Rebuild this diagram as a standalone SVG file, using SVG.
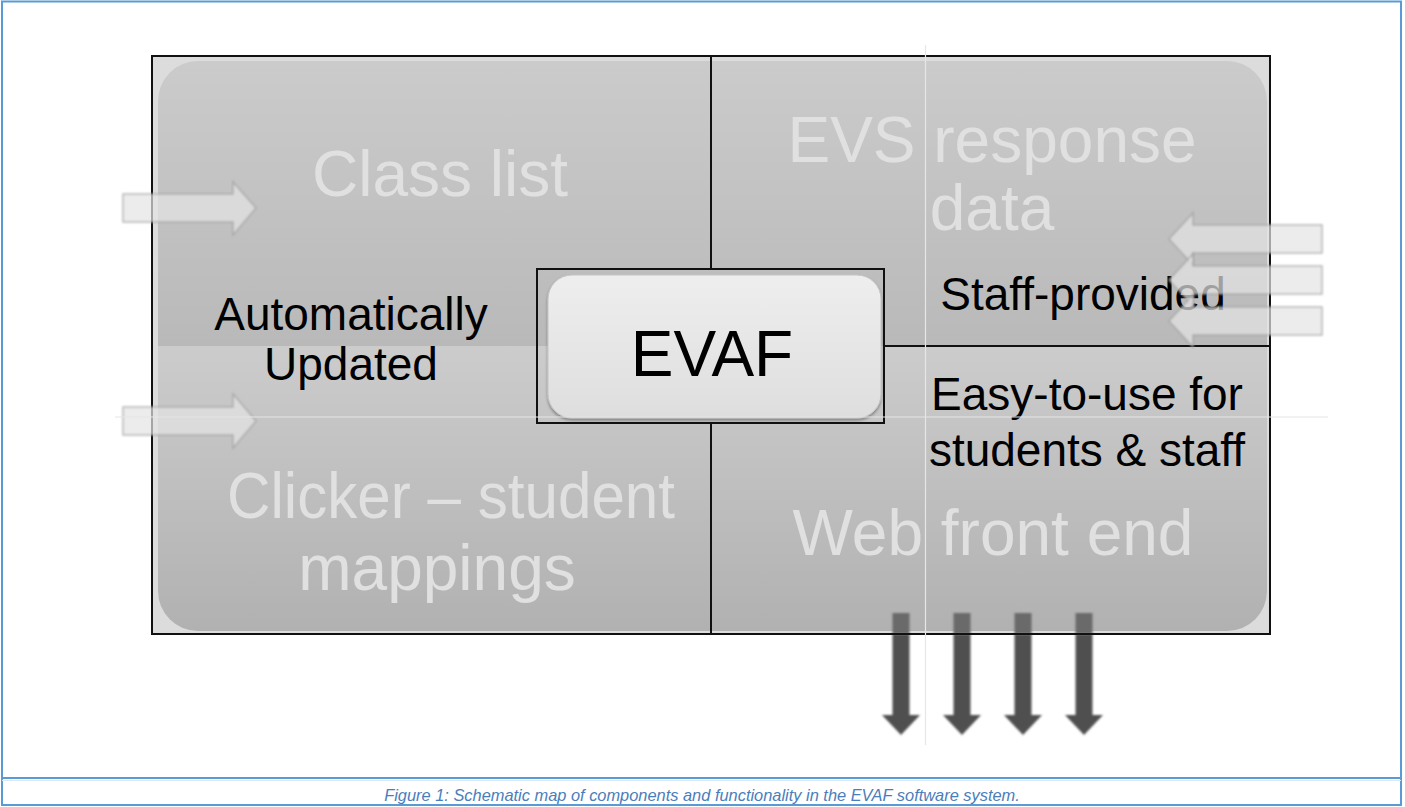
<svg xmlns="http://www.w3.org/2000/svg" width="1405" height="807" viewBox="0 0 1405 807">
<style>
.big{font-family:"Liberation Sans",Arial,sans-serif;font-size:64px;fill:#e0e0e0;text-anchor:middle}
.lbl{font-family:"Liberation Sans",Arial,sans-serif;font-size:46px;fill:#000;text-anchor:middle}
.cap{font-family:"Liberation Sans",Arial,sans-serif;font-size:16.4px;font-style:italic;fill:#4a7ebb;text-anchor:middle}
.ln{stroke:#111;stroke-width:2;fill:none}
.guide{stroke:#e6e6e6;stroke-width:1.2;fill:none}
.inarrow{fill:#e4e4e4;fill-opacity:0.7;stroke:#9a9a9a;stroke-opacity:0.7;stroke-width:1.5;filter:url(#soft)}
.outarrow{fill:#505050;filter:url(#soft)}
.outtop{fill:#6b6b6b;filter:url(#soft)}
</style>
<defs>
<linearGradient id="gTop" x1="0" y1="0" x2="0" y2="1">
<stop offset="0" stop-color="#cbcbcb"/>
<stop offset="1" stop-color="#b9b9b9"/>
</linearGradient>
<linearGradient id="gBot" x1="0" y1="0" x2="0" y2="1">
<stop offset="0" stop-color="#cccccc"/>
<stop offset="1" stop-color="#b1b1b1"/>
</linearGradient>
<linearGradient id="gEvaf" x1="0" y1="0" x2="0" y2="1">
<stop offset="0" stop-color="#eeeeee"/>
<stop offset="1" stop-color="#dedede"/>
</linearGradient>
<clipPath id="rr"><rect x="158" y="61" width="1109" height="570" rx="40" ry="40"/></clipPath>
<filter id="soft" x="-20%" y="-20%" width="140%" height="140%"><feGaussianBlur stdDeviation="0.8"/></filter>
<filter id="shadow" x="-10%" y="-10%" width="120%" height="130%"><feGaussianBlur in="SourceAlpha" stdDeviation="1.5"/><feOffset dy="1.5"/><feComponentTransfer><feFuncA type="linear" slope="0.35"/></feComponentTransfer><feMerge><feMergeNode/><feMergeNode in="SourceGraphic"/></feMerge></filter>
</defs>
<rect width="1405" height="807" fill="#fff"/>
<rect x="2" y="1.5" width="1399" height="803.5" fill="none" stroke="#5b9bd5" stroke-width="2"/>
<line x1="2" y1="778" x2="1401" y2="778" stroke="#5b9bd5" stroke-width="2"/>
<line x1="2" y1="780.5" x2="1401" y2="780.5" stroke="#dbe8f5" stroke-width="1"/>

<g id="background">
<rect x="152" y="56" width="1118" height="578" fill="#dcdcdc"/>
<g clip-path="url(#rr)">
<rect x="158" y="61" width="1109" height="285" fill="url(#gTop)"/>
<rect x="158" y="346" width="1109" height="285" fill="url(#gBot)"/>
</g>
</g>

<g id="node-classlist"><text class="big" x="440" y="196">Class list</text></g>
<g id="node-evs"><text class="big" x="992" y="162">EVS response</text><text class="big" x="992" y="230">data</text></g>
<g id="node-clicker"><text class="big" x="451" y="518" textLength="448" lengthAdjust="spacingAndGlyphs">Clicker – student</text><text class="big" x="437" y="590">mappings</text></g>
<g id="node-web"><text class="big" x="993" y="555">Web front end</text></g>

<g id="bottom-arrows">
<polygon class="outarrow" points="892.5,634 909.5,634 909.5,715 920,715 901,735 882,715 892.5,715"/>
<polygon class="outarrow" points="953.5,634 970.5,634 970.5,715 981,715 962,735 943,715 953.5,715"/>
<polygon class="outarrow" points="1014.5,634 1031.5,634 1031.5,715 1042,715 1023,735 1004,715 1014.5,715"/>
<polygon class="outarrow" points="1075.5,634 1092.5,634 1092.5,715 1103,715 1084,735 1065,715 1075.5,715"/>
<rect class="outtop" x="892.5" y="613" width="17" height="21"/>
<rect class="outtop" x="953.5" y="613" width="17" height="21"/>
<rect class="outtop" x="1014.5" y="613" width="17" height="21"/>
<rect class="outtop" x="1075.5" y="613" width="17" height="21"/>
</g>

<g id="connectors">
<rect class="ln" x="152" y="56" width="1118" height="578"/>
<line class="ln" x1="711" y1="56" x2="711" y2="268"/>
<line class="ln" x1="711" y1="423" x2="711" y2="634"/>
<line class="ln" x1="884" y1="346" x2="1270" y2="346"/>
</g>

<g id="node-evaf">
<rect class="ln" x="537" y="269" width="347" height="154"/>
<rect x="548" y="275" width="333" height="143" rx="24" ry="24" fill="url(#gEvaf)" stroke="#c4c4c4" stroke-width="1" filter="url(#shadow)"/>
<text class="lbl" x="712" y="376" style="font-size:64px">EVAF</text>
</g>

<g id="label-auto"><text class="lbl" x="351" y="330">Automatically</text><text class="lbl" x="351" y="380">Updated</text></g>
<g id="label-staff"><text class="lbl" x="1083" y="310">Staff-provided</text></g>
<g id="label-easy"><text class="lbl" x="1087" y="410">Easy-to-use for</text><text class="lbl" x="1087" y="466">students &amp; staff</text></g>

<g id="input-arrows">
<polygon class="inarrow" points="123,194 233,194 233,182 256,208 233,235 233,222 123,222"/>
<polygon class="inarrow" points="123,407 233,407 233,394 256,421 233,448 233,435 123,435"/>
<polygon class="inarrow" points="1322,225 1193,225 1193,213 1169,239 1193,265 1193,253 1322,253"/>
<polygon class="inarrow" points="1322,266 1193,266 1193,254 1169,280 1193,306 1193,294 1322,294"/>
<polygon class="inarrow" points="1322,307 1193,307 1193,295 1169,321 1193,347 1193,335 1322,335"/>
</g>

<g id="guides">
<line class="guide" x1="925.5" y1="45" x2="925.5" y2="745"/>
<line class="guide" x1="115" y1="417" x2="1328" y2="417"/>
</g>

<text class="cap" x="702" y="801">Figure 1: Schematic map of components and functionality in the EVAF software system.</text>
</svg>
